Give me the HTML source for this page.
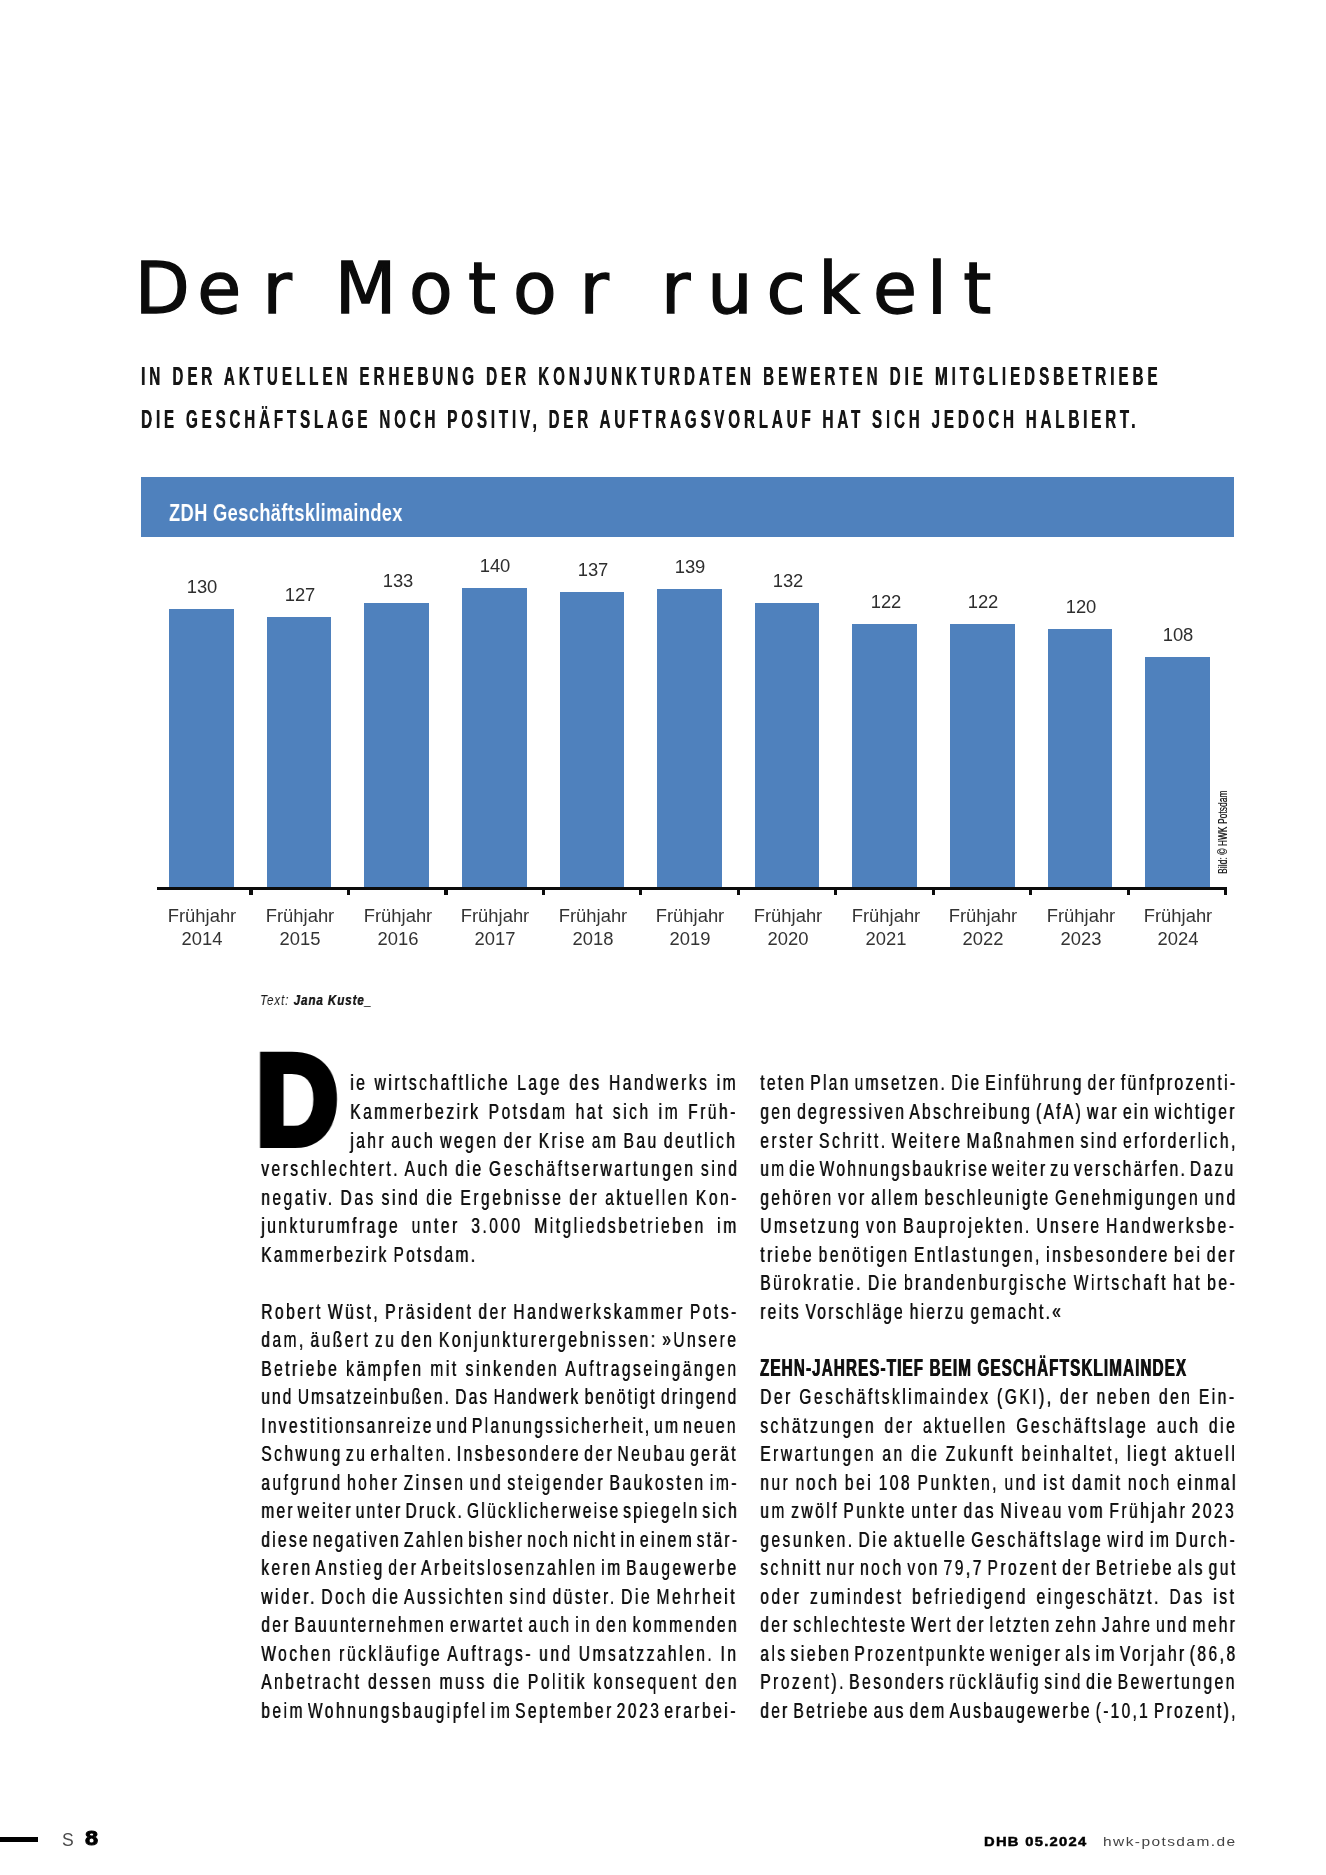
<!DOCTYPE html>
<html lang="de"><head><meta charset="utf-8"><title>Der Motor ruckelt</title>
<style>
html,body{margin:0;padding:0;background:#fff;}
body{width:1326px;height:1875px;position:relative;overflow:hidden;font-family:"Liberation Sans",sans-serif;color:#111;}
.t{position:absolute;white-space:pre;transform-origin:0 0;will-change:transform;}
.sub{font-weight:bold;font-size:25.4px;line-height:30px;color:#151515;text-shadow:0.5px 0 0 #151515;}
.ln{position:absolute;white-space:pre;transform-origin:0 0;will-change:transform;font-size:22.2px;line-height:28px;height:28px;color:#111;text-shadow:0.65px 0 0 #111;}
.ln.hd{font-weight:bold;font-size:24.5px;color:#111;text-shadow:0.6px 0 0 #111,-0.6px 0 0 #111;}
.bar{position:absolute;background:#4f81bd;}
.val{position:absolute;font-size:18.4px;line-height:20px;width:80px;text-align:center;color:#2e2e2e;will-change:transform;filter:blur(0.45px);}
.xl{position:absolute;font-size:18.4px;line-height:23.4px;width:96px;text-align:center;color:#333;will-change:transform;filter:blur(0.45px);}
</style></head><body>

<svg id="title" width="1326" height="120" viewBox="0 0 1326 120" style="position:absolute;left:0;top:230px;overflow:visible;will-change:transform;"><text x="134.8 197.3 262.6 302.6 334.8 409.1 468.0 513.0 579.4 619.4 660.9 707.2 766.5 818.3 872.9 927.0 963.2" y="83.4" font-family="DejaVu Sans, Liberation Sans, sans-serif" font-size="71.5" fill="#0b0b0b" stroke="#0b0b0b" stroke-width="1.3" stroke-linejoin="miter" xml:space="preserve">Der Motor ruckelt</text></svg>
<div class="t sub" id="sub1" style="left:140.6px;top:360.7px;letter-spacing:6.524px;transform:scaleX(0.6);">IN DER AKTUELLEN ERHEBUNG DER KONJUNKTURDATEN BEWERTEN DIE MITGLIEDSBETRIEBE</div>
<div class="t sub" id="sub2" style="left:140.6px;top:404.0px;letter-spacing:6.302px;transform:scaleX(0.6);">DIE GESCHÄFTSLAGE NOCH POSITIV, DER AUFTRAGSVORLAUF HAT SICH JEDOCH HALBIERT.</div>
<div class="bar" style="left:140.9px;top:477.4px;width:1093.3px;height:60px;"></div>
<div class="t" id="charthd" style="left:168.8px;top:498.0px;font-size:24.7px;line-height:30px;font-weight:bold;color:#fff;transform:scaleX(0.740);letter-spacing:0.5px;">ZDH Geschäftsklimaindex</div>
<div class="bar" style="left:169.2px;top:609.3px;width:64.7px;height:277.5px;"></div>
<div class="val" style="left:162.3px;top:577.4px;">130</div>
<div class="xl" style="left:154.3px;top:903.6px;">Frühjahr<br>2014</div>
<div class="bar" style="left:266.8px;top:616.5px;width:64.7px;height:270.3px;"></div>
<div class="val" style="left:259.9px;top:584.6px;">127</div>
<div class="xl" style="left:251.9px;top:903.6px;">Frühjahr<br>2015</div>
<div class="bar" style="left:364.4px;top:602.5px;width:64.7px;height:284.3px;"></div>
<div class="val" style="left:357.5px;top:570.6px;">133</div>
<div class="xl" style="left:349.5px;top:903.6px;">Frühjahr<br>2016</div>
<div class="bar" style="left:462.0px;top:587.5px;width:64.7px;height:299.3px;"></div>
<div class="val" style="left:455.1px;top:555.6px;">140</div>
<div class="xl" style="left:447.1px;top:903.6px;">Frühjahr<br>2017</div>
<div class="bar" style="left:559.6px;top:592.0px;width:64.7px;height:294.8px;"></div>
<div class="val" style="left:552.7px;top:560.1px;">137</div>
<div class="xl" style="left:544.7px;top:903.6px;">Frühjahr<br>2018</div>
<div class="bar" style="left:657.2px;top:588.6px;width:64.7px;height:298.2px;"></div>
<div class="val" style="left:650.3px;top:556.7px;">139</div>
<div class="xl" style="left:642.3px;top:903.6px;">Frühjahr<br>2019</div>
<div class="bar" style="left:754.7px;top:603.0px;width:64.7px;height:283.8px;"></div>
<div class="val" style="left:747.9px;top:571.1px;">132</div>
<div class="xl" style="left:739.9px;top:903.6px;">Frühjahr<br>2020</div>
<div class="bar" style="left:852.3px;top:624.3px;width:64.7px;height:262.5px;"></div>
<div class="val" style="left:845.5px;top:592.4px;">122</div>
<div class="xl" style="left:837.5px;top:903.6px;">Frühjahr<br>2021</div>
<div class="bar" style="left:949.9px;top:624.3px;width:64.7px;height:262.5px;"></div>
<div class="val" style="left:943.1px;top:592.4px;">122</div>
<div class="xl" style="left:935.1px;top:903.6px;">Frühjahr<br>2022</div>
<div class="bar" style="left:1047.5px;top:629.3px;width:64.7px;height:257.5px;"></div>
<div class="val" style="left:1040.7px;top:597.4px;">120</div>
<div class="xl" style="left:1032.7px;top:903.6px;">Frühjahr<br>2023</div>
<div class="bar" style="left:1145.1px;top:656.6px;width:64.7px;height:230.2px;"></div>
<div class="val" style="left:1138.2px;top:624.7px;">108</div>
<div class="xl" style="left:1130.2px;top:903.6px;">Frühjahr<br>2024</div>
<div style="position:absolute;left:157.2px;top:886.5px;width:1070.3px;height:3.3px;background:#0c0c0c;"></div>
<div style="position:absolute;left:249.2px;top:888px;width:3.4px;height:7.0px;background:#0c0c0c;"></div>
<div style="position:absolute;left:346.7px;top:888px;width:3.4px;height:7.0px;background:#0c0c0c;"></div>
<div style="position:absolute;left:444.2px;top:888px;width:3.4px;height:7.0px;background:#0c0c0c;"></div>
<div style="position:absolute;left:541.6px;top:888px;width:3.4px;height:7.0px;background:#0c0c0c;"></div>
<div style="position:absolute;left:639.1px;top:888px;width:3.4px;height:7.0px;background:#0c0c0c;"></div>
<div style="position:absolute;left:736.6px;top:888px;width:3.4px;height:7.0px;background:#0c0c0c;"></div>
<div style="position:absolute;left:834.1px;top:888px;width:3.4px;height:7.0px;background:#0c0c0c;"></div>
<div style="position:absolute;left:931.6px;top:888px;width:3.4px;height:7.0px;background:#0c0c0c;"></div>
<div style="position:absolute;left:1029.1px;top:888px;width:3.4px;height:7.0px;background:#0c0c0c;"></div>
<div style="position:absolute;left:1126.6px;top:888px;width:3.4px;height:7.0px;background:#0c0c0c;"></div>
<div style="position:absolute;left:1224.1px;top:888px;width:3.4px;height:7.0px;background:#0c0c0c;"></div>
<div class="t" id="credit" style="left:1216.4px;top:873.8px;font-size:12.8px;line-height:14px;color:#222;transform:rotate(-90deg) scaleX(0.64);text-shadow:0.4px 0 0 #222;letter-spacing:0.261px;">Bild: © HWK Potsdam</div>
<div class="t" id="byline" style="left:260.4px;top:990.1px;font-size:15.5px;line-height:20px;font-style:italic;color:#1a1a1a;transform:scaleX(0.75);letter-spacing:1.208px;">Text: <b style="text-shadow:0.5px 0 0 #1a1a1a">Jana Kuste_</b></div>
<div class="t" id="dropcap" style="left:256.1px;top:1035.9px;font-size:128.3px;line-height:128.3px;font-weight:bold;color:#000;transform:scaleX(0.887);-webkit-text-stroke:8px #000;">D</div>
<div class="ln" style="left:350.4px;top:1069.10px;transform:scaleX(0.7);letter-spacing:3.60px;word-spacing:0.63px;">ie wirtschaftliche Lage des Handwerks im</div>
<div class="ln" style="left:350.4px;top:1098.30px;transform:scaleX(0.7);letter-spacing:3.60px;word-spacing:1.77px;">Kammerbezirk Potsdam hat sich im Früh-</div>
<div class="ln" style="left:350.4px;top:1126.80px;transform:scaleX(0.7);letter-spacing:3.60px;word-spacing:-2.48px;">jahr auch wegen der Krise am Bau deutlich</div>
<div class="ln" style="left:261.0px;top:1155.31px;transform:scaleX(0.7);letter-spacing:3.60px;word-spacing:-2.13px;">verschlechtert. Auch die Geschäftserwartungen sind</div>
<div class="ln" style="left:261.0px;top:1183.81px;transform:scaleX(0.7);letter-spacing:3.60px;word-spacing:-1.28px;">negativ. Das sind die Ergebnisse der aktuellen Kon-</div>
<div class="ln" style="left:261.0px;top:1212.32px;transform:scaleX(0.7);letter-spacing:3.60px;word-spacing:6.76px;">junkturumfrage unter 3.000 Mitgliedsbetrieben im</div>
<div class="ln" style="left:261.0px;top:1240.82px;transform:scaleX(0.7);letter-spacing:3.25px;word-spacing:-2.50px;">Kammerbezirk Potsdam.</div>
<div class="ln" style="left:261.0px;top:1297.83px;transform:scaleX(0.7);letter-spacing:3.60px;word-spacing:-2.69px;">Robert Wüst, Präsident der Handwerkskammer Pots-</div>
<div class="ln" style="left:261.0px;top:1326.34px;transform:scaleX(0.7);letter-spacing:3.60px;word-spacing:-3.26px;">dam, äußert zu den Konjunkturergebnissen: »Unsere</div>
<div class="ln" style="left:261.0px;top:1354.84px;transform:scaleX(0.7);letter-spacing:3.60px;word-spacing:0.22px;">Betriebe kämpfen mit sinkenden Auftragseingängen</div>
<div class="ln" style="left:261.0px;top:1383.35px;transform:scaleX(0.7);letter-spacing:3.00px;word-spacing:-2.97px;">und Umsatzeinbußen. Das Handwerk benötigt dringend</div>
<div class="ln" style="left:261.0px;top:1411.85px;transform:scaleX(0.7);letter-spacing:3.30px;word-spacing:-5.60px;">Investitionsanreize und Planungssicherheit, um neuen</div>
<div class="ln" style="left:261.0px;top:1440.36px;transform:scaleX(0.7);letter-spacing:3.60px;word-spacing:-5.27px;">Schwung zu erhalten. Insbesondere der Neubau gerät</div>
<div class="ln" style="left:261.0px;top:1468.86px;transform:scaleX(0.7);letter-spacing:3.60px;word-spacing:-3.62px;">aufgrund hoher Zinsen und steigender Baukosten im-</div>
<div class="ln" style="left:261.0px;top:1497.37px;transform:scaleX(0.7);letter-spacing:3.30px;word-spacing:-5.51px;">mer weiter unter Druck. Glücklicherweise spiegeln sich</div>
<div class="ln" style="left:261.0px;top:1525.87px;transform:scaleX(0.7);letter-spacing:3.30px;word-spacing:-5.29px;">diese negativen Zahlen bisher noch nicht in einem stär-</div>
<div class="ln" style="left:261.0px;top:1554.38px;transform:scaleX(0.7);letter-spacing:3.60px;word-spacing:-4.69px;">keren Anstieg der Arbeitslosenzahlen im Baugewerbe</div>
<div class="ln" style="left:261.0px;top:1582.88px;transform:scaleX(0.7);letter-spacing:3.60px;word-spacing:-3.45px;">wider. Doch die Aussichten sind düster. Die Mehrheit</div>
<div class="ln" style="left:261.0px;top:1611.38px;transform:scaleX(0.7);letter-spacing:3.30px;word-spacing:-3.86px;">der Bauunternehmen erwartet auch in den kommenden</div>
<div class="ln" style="left:261.0px;top:1639.89px;transform:scaleX(0.7);letter-spacing:3.60px;word-spacing:-0.97px;">Wochen rückläufige Auftrags- und Umsatzzahlen. In</div>
<div class="ln" style="left:261.0px;top:1668.39px;transform:scaleX(0.7);letter-spacing:3.60px;word-spacing:-0.56px;">Anbetracht dessen muss die Politik konsequent den</div>
<div class="ln" style="left:261.0px;top:1696.90px;transform:scaleX(0.7);letter-spacing:3.60px;word-spacing:-5.54px;">beim Wohnungsbaugipfel im September 2023 erarbei-</div>
<div class="ln" style="left:759.8px;top:1069.10px;transform:scaleX(0.7);letter-spacing:3.30px;word-spacing:-3.74px;">teten Plan umsetzen. Die Einführung der fünfprozenti-</div>
<div class="ln" style="left:759.8px;top:1098.30px;transform:scaleX(0.7);letter-spacing:3.30px;word-spacing:-3.74px;">gen degressiven Abschreibung (AfA) war ein wichtiger</div>
<div class="ln" style="left:759.8px;top:1126.80px;transform:scaleX(0.7);letter-spacing:3.60px;word-spacing:-3.97px;">erster Schritt. Weitere Maßnahmen sind erforderlich,</div>
<div class="ln" style="left:759.8px;top:1155.31px;transform:scaleX(0.7);letter-spacing:3.30px;word-spacing:-5.47px;">um die Wohnungsbaukrise weiter zu verschärfen. Dazu</div>
<div class="ln" style="left:759.8px;top:1183.81px;transform:scaleX(0.7);letter-spacing:3.30px;word-spacing:-2.83px;">gehören vor allem beschleunigte Genehmigungen und</div>
<div class="ln" style="left:759.8px;top:1212.32px;transform:scaleX(0.7);letter-spacing:3.60px;word-spacing:-3.24px;">Umsetzung von Bauprojekten. Unsere Handwerksbe-</div>
<div class="ln" style="left:759.8px;top:1240.82px;transform:scaleX(0.7);letter-spacing:3.60px;word-spacing:-3.40px;">triebe benötigen Entlastungen, insbesondere bei der</div>
<div class="ln" style="left:759.8px;top:1269.33px;transform:scaleX(0.7);letter-spacing:3.60px;word-spacing:-2.54px;">Bürokratie. Die brandenburgische Wirtschaft hat be-</div>
<div class="ln" style="left:759.8px;top:1297.83px;transform:scaleX(0.7);letter-spacing:3.21px;word-spacing:-2.50px;">reits Vorschläge hierzu gemacht.«</div>
<div class="ln hd" style="left:759.9px;top:1353.84px;transform:scaleX(0.62);letter-spacing:1.834px;">ZEHN-JAHRES-TIEF BEIM GESCHÄFTSKLIMAINDEX</div>
<div class="ln" style="left:759.8px;top:1383.35px;transform:scaleX(0.7);letter-spacing:3.60px;word-spacing:-0.45px;">Der Geschäftsklimaindex (GKI), der neben den Ein-</div>
<div class="ln" style="left:759.8px;top:1411.85px;transform:scaleX(0.7);letter-spacing:3.60px;word-spacing:2.31px;">schätzungen der aktuellen Geschäftslage auch die</div>
<div class="ln" style="left:759.8px;top:1440.36px;transform:scaleX(0.7);letter-spacing:3.60px;word-spacing:-0.68px;">Erwartungen an die Zukunft beinhaltet, liegt aktuell</div>
<div class="ln" style="left:759.8px;top:1468.86px;transform:scaleX(0.7);letter-spacing:3.60px;word-spacing:-1.98px;">nur noch bei 108 Punkten, und ist damit noch einmal</div>
<div class="ln" style="left:759.8px;top:1497.37px;transform:scaleX(0.7);letter-spacing:3.60px;word-spacing:-3.62px;">um zwölf Punkte unter das Niveau vom Frühjahr 2023</div>
<div class="ln" style="left:759.8px;top:1525.87px;transform:scaleX(0.7);letter-spacing:3.60px;word-spacing:-3.98px;">gesunken. Die aktuelle Geschäftslage wird im Durch-</div>
<div class="ln" style="left:759.8px;top:1554.38px;transform:scaleX(0.7);letter-spacing:3.60px;word-spacing:-4.60px;">schnitt nur noch von 79,7 Prozent der Betriebe als gut</div>
<div class="ln" style="left:759.8px;top:1582.88px;transform:scaleX(0.7);letter-spacing:3.60px;word-spacing:2.60px;">oder zumindest befriedigend eingeschätzt. Das ist</div>
<div class="ln" style="left:759.8px;top:1611.38px;transform:scaleX(0.7);letter-spacing:3.30px;word-spacing:-4.16px;">der schlechteste Wert der letzten zehn Jahre und mehr</div>
<div class="ln" style="left:759.8px;top:1639.89px;transform:scaleX(0.7);letter-spacing:3.60px;word-spacing:-5.58px;">als sieben Prozentpunkte weniger als im Vorjahr (86,8</div>
<div class="ln" style="left:759.8px;top:1668.39px;transform:scaleX(0.7);letter-spacing:3.60px;word-spacing:-5.11px;">Prozent). Besonders rückläufig sind die Bewertungen</div>
<div class="ln" style="left:759.8px;top:1696.90px;transform:scaleX(0.7);letter-spacing:3.30px;word-spacing:-3.98px;">der Betriebe aus dem Ausbaugewerbe (-10,1 Prozent),</div>
<div style="position:absolute;left:0;top:1837px;width:38px;height:4.9px;background:#000;"></div>
<div class="t" id="fS" style="left:62.2px;top:1829.4px;font-size:17.6px;line-height:22px;color:#4a4a4a;">S</div>
<div class="t" id="f8" style="left:85.1px;top:1826.2px;font-size:21px;line-height:24px;font-weight:bold;color:#000;transform:scaleX(1.125);-webkit-text-stroke:0.9px #000;">8</div>
<div class="t" id="fdhb" style="left:983.8px;top:1834.3px;font-size:12.3px;line-height:16px;font-weight:bold;color:#000;letter-spacing:1.067px;transform:scaleX(1.2);-webkit-text-stroke:0.45px #000;">DHB 05.2024</div>
<div class="t" id="furl" style="left:1102.7px;top:1833.0px;font-size:13.6px;line-height:18px;color:#444;transform:scaleX(1.14);letter-spacing:1.241px;">hwk-potsdam.de</div>
</body></html>
